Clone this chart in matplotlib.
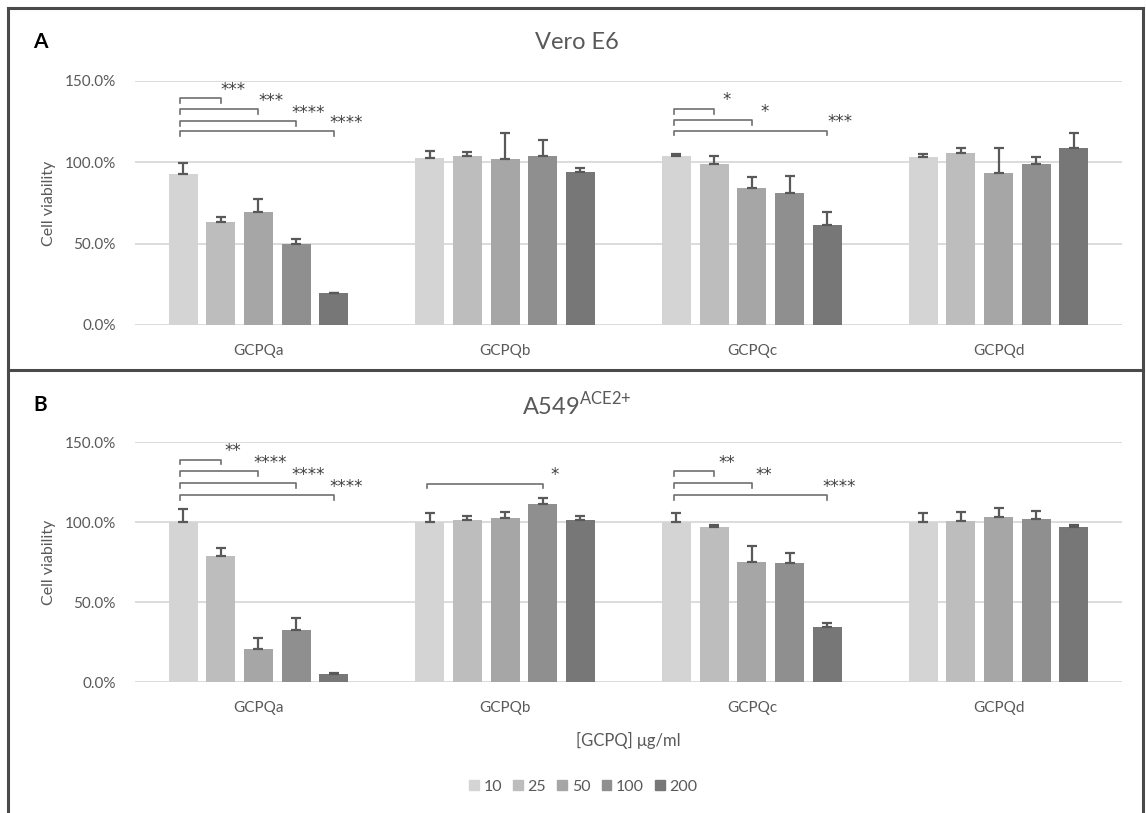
import matplotlib.pyplot as plt
import numpy as np
from matplotlib.lines import Line2D
from matplotlib.patches import Patch

plt.rcParams["font.family"] = ["Lato", "DejaVu Sans"]

compounds = ["GCPQa", "GCPQb", "GCPQc", "GCPQd"]
doses = ["10", "25", "50", "100", "200"]
colors = ["#d4d4d4", "#bdbdbd", "#a6a6a6", "#8f8f8f", "#777777"]

# Vero E6 viability (%) and upper error, rows = compound, cols = dose
vero_mean = [
    [93.0, 63.5, 69.3, 50.0, 19.5],
    [102.7, 103.9, 102.3, 103.9, 94.2],
    [104.1, 99.0, 84.2, 80.9, 61.5],
    [103.5, 105.7, 93.6, 99.0, 108.6],
]
vero_err = [
    [6.4, 2.9, 8.2, 2.7, 0.3],
    [4.5, 2.5, 15.9, 9.6, 2.4],
    [0.8, 4.9, 6.8, 10.7, 8.0],
    [1.4, 3.3, 15.4, 4.3, 9.4],
]

# A549 ACE2+ viability (%)
a549_mean = [
    [100.0, 78.5, 20.8, 32.3, 5.0],
    [100.0, 101.5, 102.7, 111.5, 101.5],
    [100.0, 96.9, 75.0, 74.4, 34.2],
    [100.0, 100.8, 103.1, 102.1, 96.9],
]
a549_err = [
    [7.9, 5.0, 6.9, 7.5, 0.8],
    [5.6, 2.2, 3.3, 3.7, 2.2],
    [5.8, 1.2, 9.8, 6.0, 2.9],
    [5.4, 5.2, 5.9, 4.6, 1.2],
]

# significance: (compound index, dose index compared with dose 0, stars, bracket height %)
vero_sig = [
    (0, 1, "***", 139.3), (0, 2, "***", 132.8), (0, 3, "****", 125.5), (0, 4, "****", 119.3),
    (2, 1, "*", 133.0), (2, 2, "*", 125.8), (2, 4, "***", 119.5),
]
a549_sig = [
    (0, 1, "**", 139.0), (0, 2, "****", 131.7), (0, 3, "****", 124.2), (0, 4, "****", 117.0),
    (1, 3, "*", 124.0),
    (2, 1, "**", 131.9), (2, 2, "**", 124.4), (2, 4, "****", 117.0),
]

step = 0.1527
width = 0.1175
grid_col = "#d9d9d9"
text_col = "#595959"


def draw_panel(axis, means, errs, sigs):
    means = np.array(means)
    errs = np.array(errs)
    x = np.arange(len(compounds))
    for j, dose in enumerate(doses):
        pos = x + (j - 2) * step
        axis.bar(pos, means[:, j], width, color=colors[j], zorder=2, label=dose)
        axis.errorbar(pos, means[:, j], yerr=[np.zeros(len(x)), errs[:, j]], fmt="none",
                      ecolor="#595959", elinewidth=1.6, capsize=3.5, capthick=1.6, zorder=3)
    for ci, dj, stars, h in sigs:
        x0 = ci - 2 * step - 0.012
        x1 = ci + (dj - 2) * step
        axis.plot([x0, x0, x1, x1], [h - 3, h, h, h - 3], color="#6f6f6f", lw=1.2,
                  zorder=4, clip_on=False)
        axis.text(x1 + 0.05, h + 2.0, stars, ha="center", va="baseline", fontsize=12,
                  family="DejaVu Sans", color="#404040", clip_on=False)
    axis.set_xlim(-0.5, 3.5)
    axis.set_ylim(0, 150)
    axis.set_yticks([0, 50, 100, 150])
    axis.set_yticklabels(["0.0%", "50.0%", "100.0%", "150.0%"])
    axis.set_xticks(x)
    axis.set_xticklabels(compounds)
    axis.yaxis.grid(True, color=grid_col, lw=1.3, zorder=0)
    axis.set_axisbelow(True)
    for side in ["top", "right", "left", "bottom"]:
        axis.spines[side].set_visible(False)
    axis.tick_params(length=0, labelsize=11, labelcolor=text_col, pad=14)
    axis.tick_params(axis="y", pad=14)
    axis.set_ylabel("Cell viability", fontsize=11.5, color=text_col, labelpad=6)


def main() -> None:
    figure = plt.figure(figsize=(11.46, 8.13), dpi=100)
    ax_a = figure.add_axes([0.1178, 0.6003, 0.8612, 0.3001])
    ax_b = figure.add_axes([0.1178, 0.1611, 0.8612, 0.2952])
    draw_panel(ax_a, vero_mean, vero_err, vero_sig)
    draw_panel(ax_b, a549_mean, a549_err, a549_sig)
    ax_b.set_xlabel("[GCPQ] μg/ml", fontsize=12, color=text_col, labelpad=12)

    figure.text(0.503, 0.948, "Vero E6", ha="center", va="center", fontsize=17, color=text_col)
    figure.text(0.503, 0.502, "A549$^{\\mathregular{ACE2{+}}}$", ha="center", va="center",
                fontsize=17, color=text_col)
    figure.text(0.029, 0.948, "A", ha="left", va="center", fontsize=15, fontweight="bold")
    figure.text(0.029, 0.502, "B", ha="left", va="center", fontsize=15, fontweight="bold")

    handles = [Patch(color=c, label=d) for c, d in zip(colors, doses)]
    figure.legend(handles=handles, loc="center", bbox_to_anchor=(0.509, 0.032), ncol=5,
                  frameon=False, fontsize=11.5, handlelength=0.6, handleheight=0.6,
                  handletextpad=0.3, columnspacing=0.7, labelcolor=text_col)

    # panel frames
    border = dict(color="#4a4a4a", lw=2.2, transform=figure.transFigure)
    xl, xr = 8 / 1146, 1 - 3 / 1146
    yt, ym, yb = 1 - 8 / 813, 1 - 370 / 813, 2 / 813
    figure.add_artist(Line2D([xl, xr], [yt, yt], **border))
    figure.add_artist(Line2D([xl, xr], [ym, ym], **border))
    figure.add_artist(Line2D([xl, xl], [yb, yt], **border))
    figure.add_artist(Line2D([xr, xr], [yb, yt], **border))

    figure.savefig("out.png", dpi=100)
    plt.close(figure)


if __name__ == "__main__":
    main()
